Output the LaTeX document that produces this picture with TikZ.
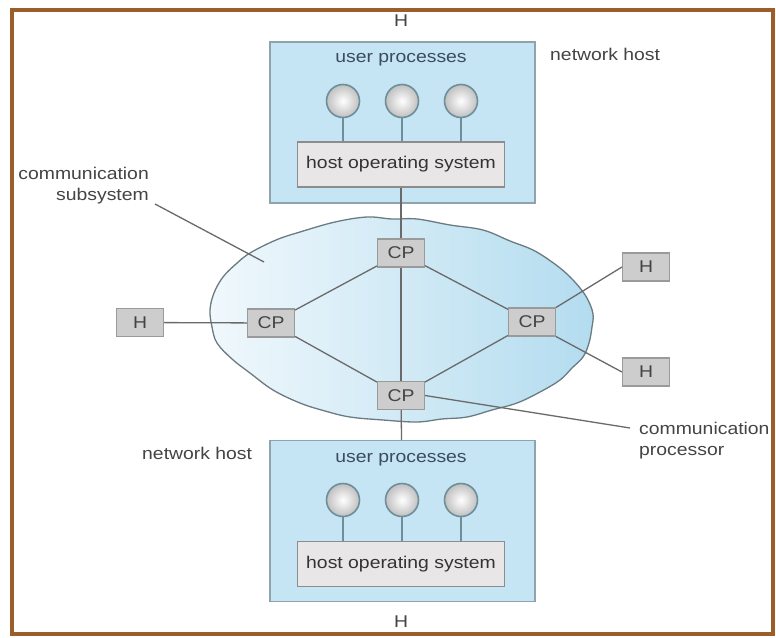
\documentclass[tikz,border=0pt]{standalone}
\usepackage{fontspec}
\setmainfont{Liberation Sans}[FakeStretch=1.14]
\definecolor{framec}{HTML}{9B5E2A}
\definecolor{hostfill}{HTML}{C5E5F4}
\definecolor{hostdraw}{HTML}{8FA3AD}
\definecolor{osfill}{HTML}{E8E6E6}
\definecolor{osdraw}{HTML}{8C8C8C}
\definecolor{procdraw}{HTML}{6E8E9A}
\definecolor{cloudl}{HTML}{F0F8FC}
\definecolor{cloudr}{HTML}{B3DCEF}
\definecolor{clouddraw}{HTML}{6B7B82}
\definecolor{linec}{HTML}{6A6A6A}
\definecolor{cpfill}{HTML}{CDCDCD}
\definecolor{cpdraw}{HTML}{9A9A9A}
\definecolor{txt}{HTML}{444444}
\definecolor{uptxt}{HTML}{3C4C5C}
\begin{document}
\begin{tikzpicture}[x=1pt,y=-1pt,
  font=\fontsize{17}{21}\selectfont,
  hostbox/.style={draw=hostdraw, fill=hostfill, line width=1.2pt, minimum width=265pt, minimum height=161pt, inner sep=0pt},
  osbox/.style={draw=osdraw, fill=osfill, line width=1.1pt, minimum width=207pt, minimum height=45pt, inner sep=0pt, text=black!80},
  proc/.style={circle, draw=procdraw, line width=1.6pt, inner color=white, outer color=black!25, minimum size=33pt, inner sep=0pt},
  cpbox/.style={draw=cpdraw, fill=cpfill, line width=1.1pt, minimum width=47pt, minimum height=28pt, inner sep=0pt, text=txt},
  lbl/.style={text=txt, inner sep=0pt},
  link/.style={draw=linec, line width=1.3pt},
  plink/.style={draw=procdraw, line width=1.3pt}
]
\useasboundingbox (0,0) rectangle (776,637);
\fill[white] (0,0) rectangle (776,637);
\draw[framec, line width=4pt] (12,10) rectangle (773,634);

% cloud
\path[draw=clouddraw, line width=1.3pt, left color=cloudl, right color=cloudr]
  plot[smooth cycle, tension=0.6] coordinates {
  (250,253) (276,240) (300,232) (335,222) (367,217) (392,219) (417,219) (450,225) (483,230) (510,241) (533,250)
  (552,262) (567,274) (580,288) (588,300) (593,314) (592,327) (589,343) (583,357) (572,368) (560,380) (540,392) (517,403) (492,410) (467,417)
  (442,419) (417,422) (383,420) (350,417) (325,411) (300,403) (273,390) (250,373) (232,359) (217,343) (212,327) (210,310) (214,293) (223,277) (236,264)};

% hosts
\node[hostbox] (tophost) at (402.5,122.5) {};
\node[hostbox] (bothost) at (402.5,521) {};
\node[lbl, text=uptxt] (tup) at (401,60) {user processes};
\node[lbl, text=uptxt] (bup) at (401,460) {user processes};
\node[osbox] (topos) at (401,164.5) {host operating system};
\node[osbox] (botos) at (401,564) {host operating system};
\foreach \n/\x in {1/343,2/402,3/461}{
  \node[proc] (tp\n) at (\x,101) {};
  \node[proc] (bp\n) at (\x,500) {};
  \draw[plink] (tp\n) -- (tp\n |- topos.north);
  \draw[plink] (bp\n) -- (bp\n |- botos.north);
}
\node[lbl] (htop) at (401,21) {H};
\node[lbl] (hbot) at (401,622) {H};

% communication processors
\node[cpbox] (tcp) at (401,253) {CP};
\node[cpbox] (lcp) at (271,323) {CP};
\node[cpbox] (rcp) at (532,322) {CP};
\node[cpbox] (bcp) at (401,395.5) {CP};
\node[cpbox] (hl) at (140,322.5) {H};
\node[cpbox] (hr1) at (646,267) {H};
\node[cpbox] (hr2) at (646,372) {H};

\draw[link] (topos) -- (tcp);
\draw[link] (tcp) -- (bcp);
\draw[link] (bcp) -- (bothost);
\draw[link] (tcp) -- (lcp);
\draw[link] (tcp) -- (rcp);
\draw[link] (lcp) -- (bcp);
\draw[link] (rcp) -- (bcp);
\draw[link] (hl) -- (lcp);
\draw[link] (rcp.north east) -- (hr1.west);
\draw[link] (rcp.south east) -- (hr2.west);

% labels
\node[lbl, anchor=west] (nhtop) at (550,54) {network host};
\node[lbl, anchor=west] (nhbot) at (142,453) {network host};
\node[lbl, anchor=east, align=right] (csub) at (149,186) {communication\\subsystem};
\node[lbl, anchor=west, align=left] (cproc) at (639,441) {communication\\processor};
\coordinate (csubend) at (264,262);
\coordinate (csubstart) at (155,204);
\coordinate (cprocend) at (630,428);
\draw[link] (csubstart) -- (csubend);
\draw[link] (bcp.east) -- (cprocend);
\end{tikzpicture}
\end{document}
